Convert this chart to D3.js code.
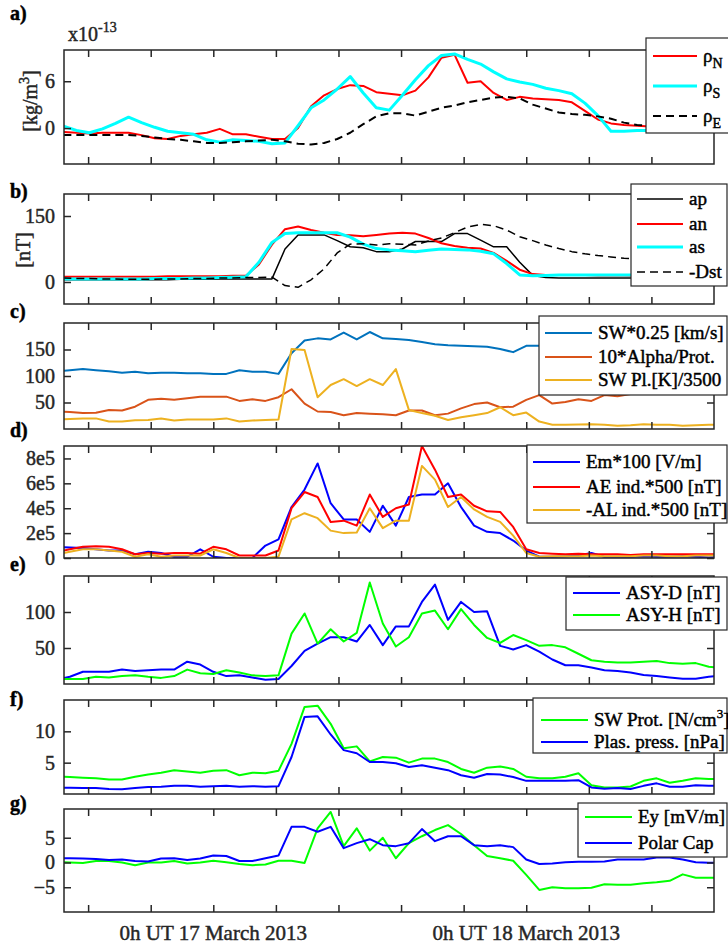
<!DOCTYPE html>
<html>
<head>
<meta charset="utf-8">
<title>Storm of 17 March 2013</title>
<style>
  body{ margin:0; background:#fff; }
  svg{ font-family:"Liberation Serif","Times New Roman",serif; }
</style>
</head>
<body>
<script src="https://d3js.org/d3.v7.min.js"></script>
<div id="graph_item"></div>
<script>

// time in hours after 0h UT 17 March 2013
var hoursAB = d3.range(-11.5, 39, 1);   // panels a, b
var hours   = d3.range(-12, 40, 1);     // panels c - g (hourly)

// a) densities, x10^-13 kg/m3
var rhoN = [-0.5,-0.6,-0.7,-0.6,-0.6,-0.6,-0.9,-1.3,-1.4,-1.0,-0.8,-0.6,-0.1,-0.8,-0.8,-1.1,-1.4,-1.4,0.0,2.8,4.2,5.0,5.5,5.4,4.6,4.4,4.2,4.8,6.5,9.0,9.4,5.8,6.0,4.5,3.6,4.0,3.8,3.7,3.6,3.3,2.2,1.1,0.6,0.4,0.3,0.2,0.2,0.2,0.2,0.3,0.3];
var rhoS = [0.25,-0.3,-0.6,-0.1,0.6,1.4,0.7,0.1,-0.4,-0.6,-0.8,-1.5,-1.8,-1.5,-1.6,-1.7,-2.0,-1.9,0.3,2.6,3.6,5.0,6.6,4.5,2.6,2.3,4.2,6.2,8.0,9.3,9.5,8.8,8.2,7.2,6.3,5.9,5.6,5.1,4.8,4.4,3.2,1.6,-0.4,-0.4,-0.3,-0.3,-0.2,-0.1,0.0,0.1,0.2];
var rhoE = [-0.9,-0.9,-0.9,-0.9,-0.9,-0.9,-1.0,-1.2,-1.4,-1.5,-1.7,-1.9,-1.9,-1.8,-1.7,-1.6,-1.5,-1.7,-2.0,-2.1,-1.9,-1.4,-0.6,0.5,1.5,1.9,1.9,1.6,2.1,2.6,2.9,3.3,3.6,3.9,4.0,3.8,3.0,2.5,2.0,1.8,1.7,1.5,1.2,0.7,0.4,0.3,0.2,0.1,0.1,0.0,0.0];

// b) indices, nT
var ap  = [5,5,5,5,5,5,5,5,5,6,6,6,7,7,7,7,7,75,107,107,107,94,80,78,69,69,75,92,92,92,110,110,95,80,80,45,15,10,9,9,9,9,9,9,9,9,9,10,10,10,10];
var an  = [12,12,12,12,12,12,12,12,13,13,13,13,13,14,14,40,85,120,126,118,112,107,106,104,107,110,112,110,100,88,82,78,76,66,48,28,18,16,16,16,16,15,15,15,14,14,13,13,12,12,12];
var as_ = [7,7,7,7,7,7,7,8,8,8,9,9,10,11,12,45,90,110,112,112,112,112,102,86,76,73,71,69,72,75,74,73,70,64,42,16,14,15,16,16,16,16,16,16,16,16,16,16,16,16,16];
var dst = [9,8,8,7,7,6,6,6,7,7,8,8,9,9,10,10,11,-8,-12,5,30,66,86,87,84,87,86,84,93,100,112,125,131,128,118,103,94,84,76,69,64,60,57,54,53,52,52,51,51,50,50];

// c) solar wind
var swSpeed = [109,111,113,111,109,106,108,105,106,106,105,105,104,104,111,108,108,104,143,167,171,169,182,169,183,171,170,168,164,160,158,157,156,155,151,145,157,157,157,156,155,155,156,157,158,158,157,156,156,157,158,158];
var alphaProt = [33,32,30,30.5,36,35,42,55,57,55,58,61,61,61,53,56,53,60,75,48,33,32,26,30,29,28,26,35,35,26,29,39,47,50,41,42,55,64,48,51,56,53,64,62,66,68,70,72,70,72,74,75];
var swTemp = [18,19,20,20,14,14,16.5,17,20,16,18,18,18,20,14,16,17,18,151,149,60,83,94,81,94,83,113,36,30,25,17,22,26,30,41,26,31,14,8,8,8.5,9,8,6,7,9,8,8,6,7,8,8];

// d) x1e5
var em = [0.9,0.85,0.8,0.7,0.6,0.6,0.3,0.5,0.4,0.1,0.1,0.7,0.1,0.0,0.0,0.0,1.0,1.5,4.1,5.5,7.6,4.4,3.1,3.1,2.1,4.2,2.6,4.9,5.1,5.1,6.0,4.1,2.6,2.1,2.0,1.4,0.6,0.1,0.1,0.15,0.2,0.4,0.1,0.1,0.1,0.15,0.1,0.1,0.15,0.1,0.05,0.1];
var ae = [0.5,0.7,0.9,0.95,0.9,0.7,0.3,0.4,0.35,0.4,0.4,0.35,0.9,0.7,0.2,0.2,0.2,0.6,4.0,5.3,4.9,2.9,3.0,2.6,5.1,3.3,4.0,4.3,9.0,7.1,4.9,5.1,4.2,3.75,3.7,2.5,0.7,0.4,0.35,0.3,0.35,0.3,0.3,0.3,0.25,0.3,0.3,0.3,0.3,0.3,0.3,0.3];
var al = [0.3,0.5,0.7,0.7,0.6,0.5,0.1,0.3,0.1,0.2,0.2,0.2,0.7,0.4,0.0,0.0,0.0,0.1,3.1,3.6,3.2,2.2,2.0,2.05,4.0,2.4,3.0,3.0,7.4,6.3,4.1,4.9,3.9,3.3,2.9,1.8,0.4,0.1,0.15,0.15,0.15,0.2,0.15,0.15,0.15,0.2,0.2,0.15,0.15,0.2,0.2,0.2];

// e) asymmetry, nT
var asyD = [6,10,17,17,17,20,18,19,20,20,31,27,17,11,12,9,6,7,25,46,56,65,65,59,82,54,80,80,114,138,89,114,100,101,53,48,54,45,34,26,26,23,19,18,16,12.5,11,9,7.4,7.4,10,12];
var asyH = [7,7,7,10,9,11,12,10,8.5,11,20,15,14,19,16,12,11,12,70,98,56,76,59,71,141,84,52,65,98,102,76,104,82,64,57,68,61,53,54,51,42,33,31,30,30,31,32,29,28,29,24,22];

// f) density and pressure
var swProt = [2.8,2.7,2.6,2.5,2.3,2.3,2.75,3.1,3.4,3.8,3.6,3.4,3.7,3.8,3.0,3.4,3.3,3.7,8.0,13.9,14.1,11.2,7.3,7.6,5.2,5.9,5.8,5.0,5.65,5.65,5.1,4.0,3.4,4.2,4.4,4.0,2.75,2.5,2.5,2.75,3.3,1.4,1.05,1.05,1.2,2.1,2.5,1.8,2.1,2.5,2.4,2.4];
var plasPress = [1.0,1.0,0.95,0.95,0.8,0.75,0.95,1.1,1.15,1.3,1.3,1.15,1.25,1.3,1.15,1.25,1.15,1.25,5.9,12.3,12.4,9.5,7.0,6.5,5.1,5.1,4.9,4.3,4.6,4.2,3.8,3.0,2.6,3.2,3.1,2.7,2.1,2.1,2.1,2.1,2.2,1.05,0.85,0.95,0.8,1.3,1.7,1.15,1.15,1.4,1.3,1.3];

// g) electric field and polar cap index
var ey = [0.1,0.0,-0.1,0.3,0.3,0.0,-0.55,0.0,0.0,0.3,-0.2,0.0,0.35,0.05,-0.3,-0.55,-0.4,0.35,0.35,-0.1,6.9,10.2,3.3,6.9,2.4,5.0,0.85,3.9,5.3,6.55,7.55,5.75,3.5,1.3,0.85,0.35,-2.5,-5.55,-5.0,-5.2,-5.2,-5.1,-4.4,-4.5,-4.5,-4.2,-4.0,-3.7,-2.4,-3.1,-3.1,-3.1];
var pc = [0.85,0.85,0.8,0.7,0.5,0.6,0.3,0.2,0.8,0.85,0.5,0.8,1.4,1.3,0.3,0.3,0.85,1.4,7.2,7.2,6.2,7.2,2.9,3.9,4.7,3.5,3.3,3.9,6.75,4.3,5.3,5.3,3.5,3.3,3.5,3.1,0.6,-0.3,-0.2,0.05,0.15,0.15,0.2,0.6,0.6,0.6,1.0,1.0,0.6,0.05,-0.05,-0.1];

var xTicks = [-9.6,-4.8,0,4.8,9.6,14.4,19.2,24,28.8,33.6];
var dayLabels = [[0,"0h UT 17 March 2013"],[24,"0h UT 18 March 2013"]];

var axisColor = "#262626";
var blue = "#0000ff", green = "#00ff00", red = "#ff0000", cyan = "#00ffff";

var panels = [
  {label:"a)", lab_y:20, top:50, bottom:164, domain:[-4.6,10], ticks:[0,6], fmt:d3.format("d"), t:hoursAB,
   series:[
     {v:rhoN, c:red, w:2, name:["ρ","N"]},
     {v:rhoS, c:cyan, w:3, name:["ρ","S"]},
     {v:rhoE, c:"#000", w:2, dash:"8,5", name:["ρ","E"]}],
   leg:{x:646, y:38, w:90, h:95, rows:[56,86,116], lx:[653,697]}},
  {label:"b)", lab_y:198, top:194, bottom:304, domain:[-50,200], ticks:[0,150], fmt:d3.format("d"), t:hoursAB,
   series:[
     {v:ap, c:"#000", w:1.5, name:["ap"]},
     {v:an, c:red, w:2, name:["an"]},
     {v:as_, c:cyan, w:3, name:["as"]},
     {v:dst, c:"#000", w:1.5, dash:"8,5", name:["-Dst"]}],
   leg:{x:631, y:184, w:96, h:102, rows:[199,224,247,272], lx:[637,683]}},
  {label:"c)", lab_y:318, top:323, bottom:429, domain:[0,200], ticks:[50,100,150], fmt:d3.format("d"), t:hours,
   series:[
     {v:swSpeed, c:"#0072bd", w:2, name:["SW*0.25 [km/s]"]},
     {v:alphaProt, c:"#d95319", w:2, name:["10*Alpha/Prot."]},
     {v:swTemp, c:"#edb120", w:2, name:["SW Pl.[K]/3500"]}],
   leg:{x:539, y:316, w:188, h:79, rows:[333,357,380], lx:[545,592]}},
  {label:"d)", lab_y:437, top:446, bottom:558, domain:[0,9], ticks:[0,2,4,6,8], fmt:function(d){ return d === 0 ? "0" : d + "e5"; }, t:hours,
   series:[
     {v:em, c:blue, w:2, name:["Em*100 [V/m]"]},
     {v:ae, c:red, w:2, name:["AE ind.*500 [nT]"]},
     {v:al, c:"#edb120", w:2, name:["-AL ind.*500 [nT]"]}],
   leg:{x:527, y:445, w:200, h:78, rows:[462,487,510], lx:[533,580]}},
  {label:"e)", lab_y:571, top:576, bottom:684, domain:[0,150], ticks:[50,100], fmt:d3.format("d"), t:hours,
   series:[
     {v:asyD, c:blue, w:2, name:["ASY-D [nT]"]},
     {v:asyH, c:green, w:2, name:["ASY-H [nT]"]}],
   leg:{x:566, y:577, w:161, h:53, rows:[593,615], lx:[573,620]}},
  {label:"f)", lab_y:706, top:700, bottom:794, domain:[0,15], ticks:[5,10], fmt:d3.format("d"), t:hours,
   series:[
     {v:swProt, c:green, w:2, name:["SW Prot. [N/cm","3","]"]},
     {v:plasPress, c:blue, w:2, name:["Plas. press. [nPa]"]}],
   leg:{x:533, y:698, w:194, h:55, rows:[720,742], lx:[541,588]}},
  {label:"g)", lab_y:810, top:809, bottom:912, domain:[-10,10.8], ticks:[-5,0,5], fmt:d3.format("d"), t:hours,
   series:[
     {v:ey, c:green, w:2, name:["Ey [mV/m]"]},
     {v:pc, c:blue, w:2, name:["Polar Cap"]}],
   leg:{x:578, y:803, w:149, h:54, rows:[817,843], lx:[585,632]}}
];

var svg = d3.select("#graph_item").append("svg")
  .attr("width", 728).attr("height", 949);

var x = d3.scaleLinear().domain([-11.45, 38.4]).range([64, 714]);

panels.forEach(function(p, pi){
  var y = d3.scaleLinear().domain(p.domain).range([p.bottom, p.top]);
  var g = svg.append("g");

  // clip for the lines
  g.append("clipPath").attr("id", "clip" + pi)
    .append("rect").attr("x", 64).attr("y", p.top).attr("width", 650).attr("height", p.bottom - p.top);

  var line = d3.line().x(function(d){ return x(d[0]); }).y(function(d){ return y(d[1]); });
  p.series.forEach(function(s){
    var pts = p.t.map(function(t, i){ return [t, s.v[i]]; });
    g.append("path")
      .attr("clip-path", "url(#clip" + pi + ")")
      .attr("fill", "none")
      .attr("stroke", s.c)
      .attr("stroke-width", s.w)
      .attr("stroke-dasharray", s.dash || null)
      .attr("stroke-linejoin", "round")
      .attr("d", line(pts));
  });

  // axes: ticks inside on all four sides (box on)
  g.append("g").attr("transform", "translate(0," + p.bottom + ")")
    .call(d3.axisBottom(x).tickValues(xTicks).tickSize(-7).tickFormat(""));
  g.append("g").attr("transform", "translate(0," + p.top + ")")
    .call(d3.axisTop(x).tickValues(xTicks).tickSize(-7).tickFormat(""));
  g.append("g").attr("transform", "translate(64,0)")
    .call(d3.axisLeft(y).tickValues(p.ticks).tickSize(-7).tickPadding(9).tickFormat(p.fmt));
  g.append("g").attr("transform", "translate(714,0)")
    .call(d3.axisRight(y).tickValues(p.ticks).tickSize(-7).tickFormat(""));
  g.selectAll(".domain").remove();
  g.selectAll(".tick line").attr("stroke", axisColor).attr("stroke-width", 1.5);
  g.selectAll(".tick text").attr("fill", axisColor).style("font-size", "20px")
    .style("font-family", "'Liberation Serif', serif");

  g.append("rect").attr("x", 64).attr("y", p.top).attr("width", 650).attr("height", p.bottom - p.top)
    .attr("fill", "none").attr("stroke", axisColor).attr("stroke-width", 1.5);

  // panel label
  svg.append("text").attr("x", 10).attr("y", p.lab_y)
    .style("font-size", "20px").style("font-weight", "bold").attr("fill", "#000")
    .text(p.label);

  // legend
  var L = p.leg;
  var lg = svg.append("g");
  lg.append("rect").attr("x", L.x).attr("y", L.y).attr("width", L.w).attr("height", L.h)
    .attr("fill", "#fff").attr("stroke", axisColor).attr("stroke-width", 1.2);
  p.series.forEach(function(s, i){
    var ry = L.rows[i];
    lg.append("line").attr("x1", L.lx[0]).attr("x2", L.lx[1]).attr("y1", ry).attr("y2", ry)
      .attr("stroke", s.c).attr("stroke-width", s.w).attr("stroke-dasharray", s.dash || null);
    var t = lg.append("text").attr("x", L.lx[1] + 6).attr("y", ry + 6)
      .style("font-size", "19px").attr("fill", "#000");
    t.append("tspan").text(s.name[0]);
    if (s.name.length === 2) {
      t.append("tspan").attr("dy", 6).style("font-size", "14px").text(s.name[1]);
    } else if (s.name.length === 3) {
      t.append("tspan").attr("dy", -8).style("font-size", "13px").text(s.name[1]);
      t.append("tspan").attr("dy", 8).text(s.name[2]);
    }
  });
});

// y labels
var ya = svg.append("text").attr("transform", "translate(37,101) rotate(-90)")
  .attr("text-anchor", "middle").style("font-size", "20px").attr("fill", axisColor);
ya.append("tspan").text("[kg/m");
ya.append("tspan").attr("dy", -8).style("font-size", "14px").text("3");
ya.append("tspan").attr("dy", 8).text("]");

svg.append("text").attr("transform", "translate(30,250) rotate(-90)")
  .attr("text-anchor", "middle").style("font-size", "20px").attr("fill", axisColor).text("[nT]");

// exponent
var ex = svg.append("text").attr("x", 68).attr("y", 41).style("font-size", "20px")
  .attr("fill", axisColor);
ex.append("tspan").text("x10");
ex.append("tspan").attr("dy", -9).style("font-size", "14px").text("-13");

// x labels
svg.selectAll(".daylab").data(dayLabels).join("text")
  .attr("class", "daylab")
  .attr("x", function(d){ return x(d[0]); })
  .attr("y", 940)
  .attr("text-anchor", "middle")
  .style("font-size", "21px").attr("fill", axisColor)
  .text(function(d){ return d[1]; });

// heavier glyphs, like the exported figure
svg.selectAll("text").each(function(){
  var el = d3.select(this);
  el.attr("stroke", el.attr("fill") || "#000").attr("stroke-width", 0.45);
});

</script>
</body>
</html>
